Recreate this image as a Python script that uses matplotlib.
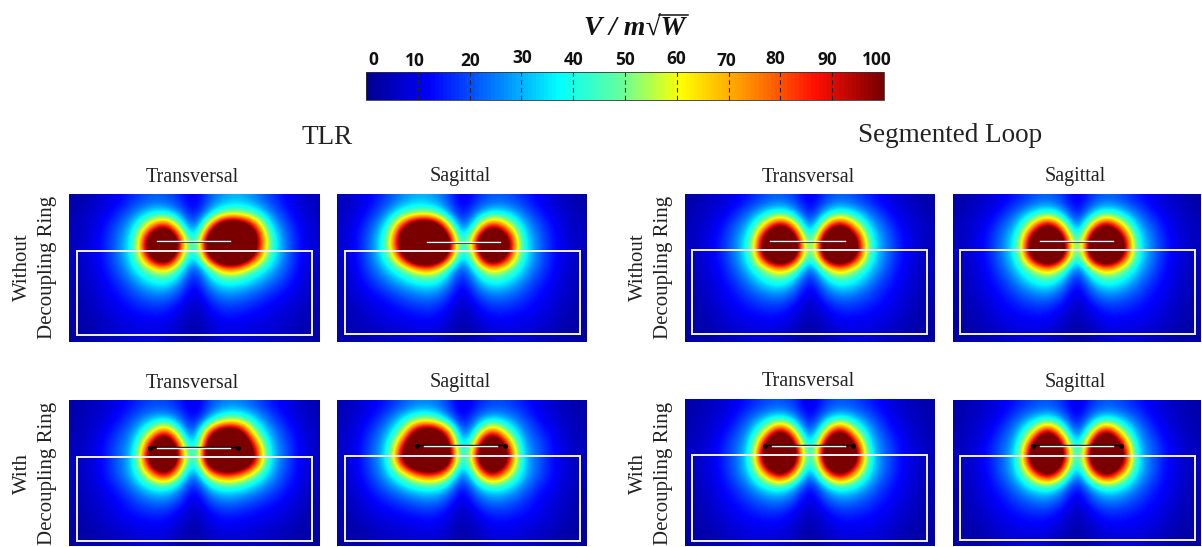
# Field maps for TLR and segmented loop coils, with and without decoupling ring

import numpy as np
import matplotlib.pyplot as plt
from matplotlib.colors import LinearSegmentedColormap
from matplotlib.patches import Rectangle

plt.rcParams['font.family'] = ['Liberation Serif', 'DejaVu Serif']

# Values on a coarse grid, rows top to bottom.
# The colour scale saturates at 100, so values above it only set the edge of the dark core
tlr_no_ring = [
    [3, 5, 8, 12, 17, 21, 21, 16, 8, 21, 28, 30, 26, 19, 13, 8, 5],
    [4, 7, 11, 17, 26, 36, 38, 26, 10, 30, 50, 52, 44, 28, 17, 10, 6],
    [5, 8, 14, 23, 36, 75, 110, 50, 13, 75, 150, 150, 100, 40, 23, 13, 7],
    [5, 9, 15, 26, 42, 125, 175, 95, 18, 130, 180, 180, 125, 50, 26, 14, 7],
    [5, 9, 15, 26, 42, 110, 165, 75, 20, 110, 175, 175, 105, 46, 26, 14, 7],
    [5, 8, 14, 23, 36, 55, 70, 42, 13, 42, 75, 70, 48, 34, 23, 13, 6],
    [4, 7, 12, 17, 27, 36, 40, 28, 9, 30, 40, 38, 32, 25, 17, 11, 5],
    [4, 6, 10, 14, 19, 24, 25, 18, 6, 19, 26, 25, 21, 16, 12, 9, 5],
    [3, 5, 8, 11, 14, 16, 16, 11, 4, 12, 17, 16, 14, 11, 9, 6, 4],
    [3, 4, 6, 9, 10, 11, 11, 7, 3, 8, 12, 11, 10, 9, 7, 5, 4],
    [2, 3, 5, 6, 8, 8, 7, 4, 2, 5, 8, 8, 7, 6, 5, 4, 3],
]
tlr_ring = [
    [3, 5, 7, 11, 15, 19, 19, 15, 7, 19, 25, 25, 21, 15, 11, 7, 4],
    [4, 6, 9, 14, 22, 30, 35, 24, 9, 30, 50, 52, 36, 23, 14, 9, 5],
    [4, 7, 12, 19, 28, 55, 100, 42, 11, 90, 135, 125, 55, 30, 19, 11, 6],
    [5, 8, 14, 23, 32, 100, 165, 80, 14, 125, 170, 160, 95, 35, 22, 12, 6],
    [5, 8, 14, 23, 35, 115, 170, 90, 18, 135, 175, 165, 110, 36, 23, 12, 6],
    [5, 8, 14, 23, 35, 70, 110, 55, 14, 70, 95, 85, 55, 33, 20, 12, 6],
    [4, 7, 12, 17, 27, 38, 42, 30, 9, 34, 42, 40, 32, 24, 16, 10, 5],
    [4, 6, 9, 13, 19, 24, 26, 19, 6, 20, 26, 24, 20, 16, 12, 8, 4],
    [3, 5, 8, 11, 14, 16, 16, 11, 4, 12, 16, 15, 13, 11, 9, 6, 3],
    [2, 4, 6, 8, 10, 11, 11, 7, 3, 8, 11, 10, 9, 8, 6, 4, 3],
    [2, 3, 4, 5, 7, 8, 7, 4, 2, 5, 7, 7, 6, 5, 4, 3, 2],
]
seg_no_ring = [
    [3, 5, 7, 11, 15, 20, 22, 18, 8, 18, 22, 20, 15, 11, 7, 5, 3],
    [4, 7, 10, 16, 25, 36, 45, 32, 10, 32, 45, 36, 25, 16, 10, 7, 4],
    [5, 8, 13, 23, 34, 75, 125, 72, 13, 72, 125, 75, 34, 23, 13, 8, 5],
    [5, 9, 15, 26, 42, 125, 175, 125, 18, 125, 175, 125, 42, 26, 15, 9, 5],
    [5, 9, 15, 26, 42, 120, 175, 120, 20, 120, 175, 120, 42, 26, 15, 9, 5],
    [5, 8, 13, 23, 35, 55, 75, 52, 14, 52, 75, 55, 35, 23, 13, 8, 5],
    [4, 7, 12, 17, 27, 37, 42, 30, 9, 30, 42, 37, 27, 17, 12, 7, 4],
    [4, 6, 10, 14, 19, 24, 26, 19, 6, 19, 26, 24, 19, 14, 10, 6, 4],
    [3, 5, 8, 11, 14, 16, 16, 11, 4, 11, 16, 16, 14, 11, 8, 5, 3],
    [3, 4, 6, 9, 10, 11, 11, 7, 3, 7, 11, 11, 10, 9, 6, 4, 3],
    [2, 3, 5, 6, 8, 8, 7, 4, 2, 4, 7, 8, 8, 6, 5, 3, 2],
]
seg_ring = [
    [3, 5, 7, 11, 15, 19, 21, 17, 7, 17, 21, 19, 15, 11, 7, 5, 3],
    [4, 6, 9, 14, 23, 32, 40, 28, 9, 28, 40, 32, 23, 14, 9, 6, 4],
    [4, 7, 11, 19, 30, 60, 120, 58, 11, 58, 120, 60, 30, 19, 11, 7, 4],
    [5, 8, 14, 23, 34, 110, 170, 105, 14, 105, 170, 110, 34, 23, 14, 8, 5],
    [5, 8, 14, 23, 38, 125, 175, 115, 17, 115, 175, 125, 38, 23, 14, 8, 5],
    [5, 8, 13, 23, 35, 75, 120, 70, 14, 70, 120, 75, 35, 23, 13, 8, 5],
    [4, 7, 12, 17, 27, 38, 44, 30, 9, 30, 44, 38, 27, 17, 12, 7, 4],
    [4, 6, 10, 14, 19, 24, 26, 19, 6, 19, 26, 24, 19, 14, 10, 6, 4],
    [3, 5, 8, 11, 14, 16, 16, 11, 4, 11, 16, 16, 14, 11, 8, 5, 3],
    [3, 4, 6, 9, 10, 11, 11, 7, 3, 7, 11, 11, 10, 9, 6, 4, 3],
    [2, 3, 4, 6, 8, 8, 7, 4, 2, 4, 7, 8, 8, 6, 4, 3, 2],
]

colorbar_ticks = [0, 10, 20, 30, 40, 50, 60, 70, 80, 90, 100]
row_labels = ['Without\nDecoupling Ring', 'With\nDecoupling Ring']

# Jet-like colormap, stops as on the colorbar of the picture
jet = LinearSegmentedColormap.from_list('field', [
    (0.00, '#00008f'), (0.12, '#0000ff'), (0.25, '#0080ff'), (0.37, '#00ffff'),
    (0.50, '#70ff90'), (0.61, '#ffff00'), (0.74, '#ff9000'), (0.87, '#ff1000'),
    (1.00, '#7a0000')])

fig = plt.figure(figsize=(12.02, 5.47), dpi=100)
ax = fig.add_axes([0, 0, 1, 1])

# panel: x0, y0, x1, y1, box x0, y0, x1, y1, coil x0, x1, y, data, mirrored?, ring?, title
panels = [
    (69, 194, 320, 342, 77, 251, 312, 335, 157, 230, 241, tlr_no_ring, False, False, 'Transversal'),
    (337, 194, 587, 342, 345, 251, 580, 334, 427, 500, 242, tlr_no_ring, True, False, 'Sagittal'),
    (685, 194, 935, 342, 692, 250, 927, 334, 770, 845, 241, seg_no_ring, False, False, 'Transversal'),
    (953, 194, 1201, 342, 960, 250, 1195, 334, 1040, 1113, 241, seg_no_ring, False, False, 'Sagittal'),
    (69, 400, 320, 546, 77, 457, 312, 541, 157, 230, 448, tlr_ring, False, True, 'Transversal'),
    (337, 400, 587, 546, 345, 456, 580, 541, 424, 497, 446, tlr_ring, True, True, 'Sagittal'),
    (685, 399, 935, 546, 692, 455, 927, 541, 772, 845, 446, seg_ring, False, True, 'Transversal'),
    (953, 400, 1201, 546, 960, 456, 1195, 540, 1040, 1113, 446, seg_ring, False, True, 'Sagittal'),
]

for x0, y0, x1, y1, bx0, by0, bx1, by1, cx0, cx1, cy, data, mirrored, ring, title in panels:
    values = np.array(data, dtype=float)
    if mirrored:
        values = values[:, ::-1]
    ax.imshow(values, extent=(x0, x1, y1, y0), cmap=jet, vmin=0, vmax=100,
              interpolation='bicubic', aspect='auto')
    ax.add_patch(Rectangle((bx0, by0), bx1 - bx0, by1 - by0, fill=False, ec='#f2f2f2', lw=1.4))
    if ring:
        ax.plot([cx0 - 7, cx1 + 8], [cy - 1, cy - 1], color='k', lw=1.0)
        ax.plot([cx0 - 7, cx1 + 8], [cy, cy], 'o', color='k', ms=2.5)
    else:
        ax.plot([cx0, cx1], [cy + 1, cy + 1], color='k', lw=0.6)
    ax.plot([cx0, cx1], [cy, cy], color='white', lw=1.0)
    ax.text((x0 + x1) / 2 - 2, y0 - 17, title, ha='center', va='center', fontsize=14.5, color='#222222')

# Coil names
ax.text(327, 137, 'TLR', ha='center', va='center', fontsize=19.5, color='#222222')
ax.text(950, 136, 'Segmented Loop', ha='center', va='center', fontsize=19.5, color='#222222')

# Row labels
for x_lab in [35, 651]:
    ax.text(x_lab, 267, row_labels[0], rotation=90, ha='center', va='center', multialignment='center',
            fontsize=15, color='#222222', linespacing=1.45)
    ax.text(x_lab, 473, row_labels[1], rotation=90, ha='center', va='center', multialignment='center',
            fontsize=15, color='#222222', linespacing=1.45)

# Colorbar
gradient = np.linspace(0, 100, 128)[None, :]
ax.imshow(gradient, extent=(366, 884, 100, 72), cmap=jet, vmin=0, vmax=100,
          interpolation='nearest', aspect='auto')
ax.add_patch(Rectangle((366, 72), 518, 28, fill=False, ec='#333333', lw=0.6))
for t in colorbar_ticks[1:-1]:
    xt = 366 + 518 * t / 100
    ax.plot([xt, xt], [72, 100], color='#222222', lw=0.8, ls=(0, (4, 3)))

tick_x = [373, 415, 470, 522, 574, 625, 676, 726, 775, 827, 877]
tick_y = [60, 61, 61, 58, 60, 60, 59, 61, 59, 60, 60]
for t, xt, yt in zip(colorbar_ticks, tick_x, tick_y):
    ax.text(xt, yt, str(t), ha='center', va='center', fontsize=12.5, fontweight='bold',
            family=['Open Sans', 'DejaVu Sans'], color='#111111')

# Unit, the bar of the root is a plain line over the W
ax.text(635, 28, 'V / m\u221aW', ha='center', va='center', fontsize=20, fontweight='bold',
        fontstyle='italic', color='#111111')
ax.plot([659, 688], [15, 15], color='#111111', lw=1.1)

ax.set_xlim(0, 1202)
ax.set_ylim(547, 0)
ax.axis('off')

plt.savefig('out.png', dpi=100)
